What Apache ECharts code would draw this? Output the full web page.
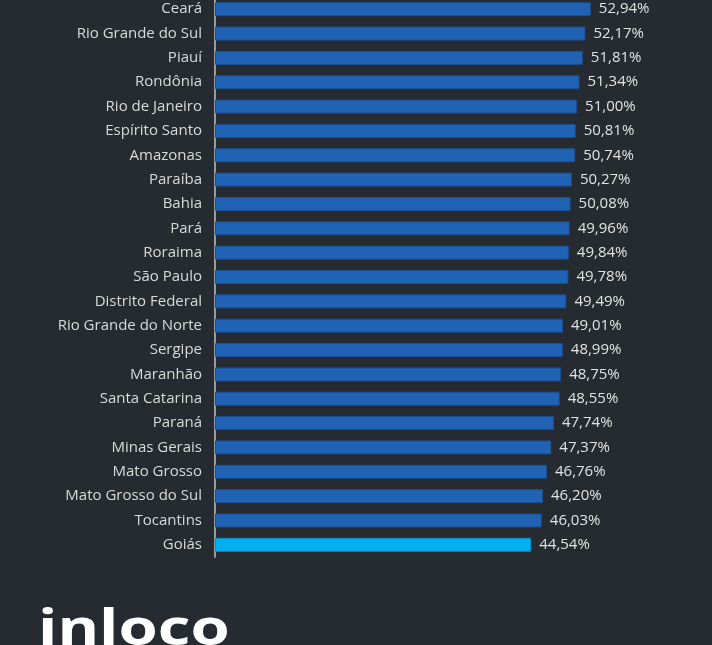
<!DOCTYPE html>
<html><head><meta charset="utf-8">
<script src="https://cdn.jsdelivr.net/npm/echarts@6/dist/echarts.min.js"></script>
<style>html,body{margin:0;padding:0;background:#262b31;overflow:hidden;}#c{position:absolute;left:0;top:-3px;width:712px;height:660px;}</style>
</head><body><div id="c"></div>
<script>
const states = ["Ceará","Rio Grande do Sul","Piauí","Rondônia","Rio de Janeiro","Espírito Santo","Amazonas","Paraíba","Bahia","Pará","Roraima","São Paulo","Distrito Federal","Rio Grande do Norte","Sergipe","Maranhão","Santa Catarina","Paraná","Minas Gerais","Mato Grosso","Mato Grosso do Sul","Tocantins","Goiás"];
const values = [52.94,52.17,51.81,51.34,51.00,50.81,50.74,50.27,50.08,49.96,49.84,49.78,49.49,49.01,48.99,48.75,48.55,47.74,47.37,46.76,46.20,46.03,44.54];
const highlight = "Goiás";

const chart = echarts.init(document.getElementById('c'));
const font = '"Open Sans", sans-serif';
chart.setOption({
  backgroundColor: '#262b31',
  animation: false,
  grid: {left: 215, right: 71, top: 0, bottom: 100, containLabel: false},
  xAxis: {type: 'value', min: 0, max: 60, show: false},
  yAxis: {
    type: 'category', data: states, inverse: true,
    axisLine: {show: true, lineStyle: {color: '#9a9a9a', width: 2}},
    axisTick: {show: false},
    axisLabel: {color: '#dadada', fontSize: 15, fontFamily: font, margin: 13}
  },
  series: [{
    type: 'bar', barWidth: 14,
    data: states.map((s, i) => ({
      value: values[i],
      itemStyle: s === highlight ? {color: '#00b0f0', borderColor: '#0a8ec2', borderWidth: 1}
                                 : {color: '#2062b4', borderColor: '#1a4f92', borderWidth: 1}
    })),
    label: {show: true, position: 'right', distance: 8, color: '#e2e2e2', fontSize: 15, fontFamily: font,
      formatter: p => p.value.toFixed(2).replace('.', ',') + '%'}
  }],
  graphic: [{
    type: 'text', left: 38, top: 609, scaleX: 1.27,
    style: {text: 'inloco', fill: '#ffffff', font: 'bold 50px "Open Sans", sans-serif'}
  }]
});
</script></body></html>
